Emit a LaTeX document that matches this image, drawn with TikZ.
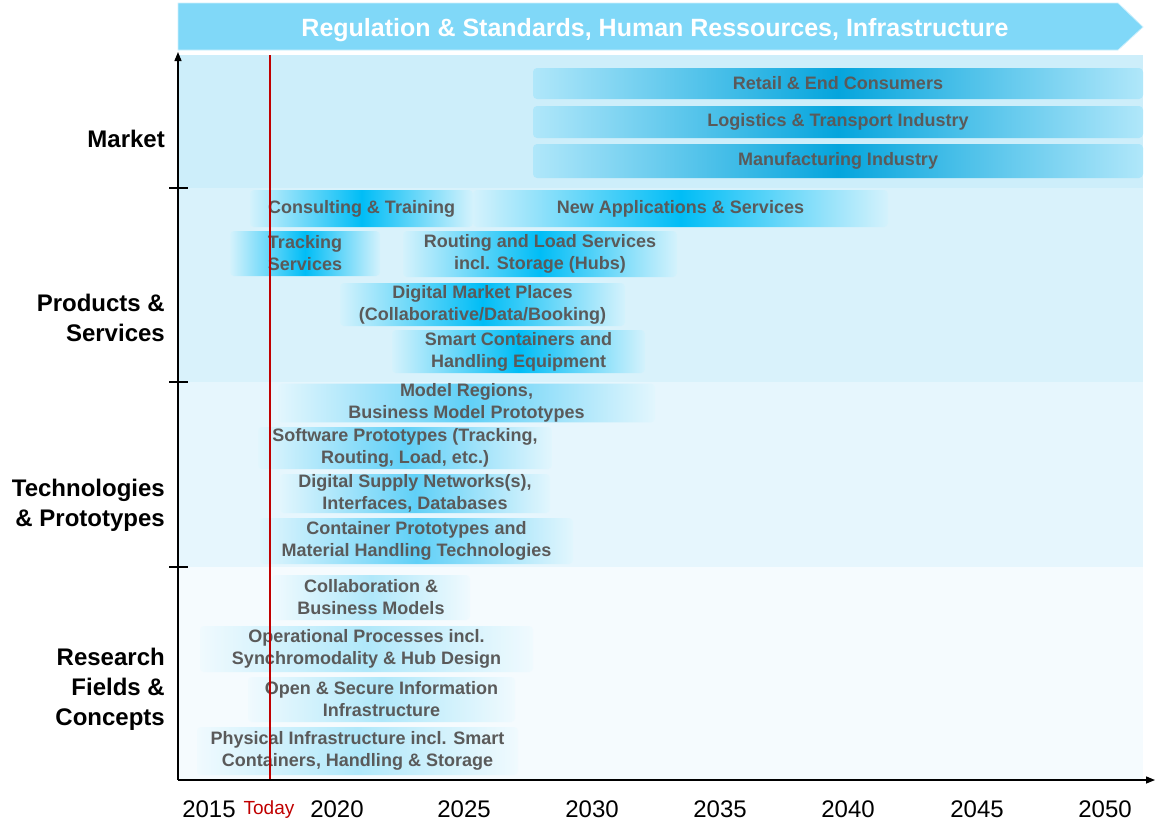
\documentclass[tikz,border=0pt]{standalone}
\usepackage{fontspec}
\setmainfont{Liberation Sans}
\usetikzlibrary{arrows.meta}
\definecolor{txtgray}{HTML}{5A5A5A}
\definecolor{banner}{HTML}{80D8F8}
\definecolor{bandM}{HTML}{CDEEFA}
\definecolor{bandP}{HTML}{D9F2FB}
\definecolor{bandT}{HTML}{E6F6FD}
\definecolor{bandR}{HTML}{F5FBFE}
\definecolor{mktE}{HTML}{B0E7FA}
\definecolor{mktC}{HTML}{05A5DD}
\definecolor{prdE}{HTML}{D4F2FC}
\definecolor{prdC}{HTML}{00BDF6}
\definecolor{tecE}{HTML}{E2F6FD}
\definecolor{tecC}{HTML}{60D0F7}
\definecolor{rscE}{HTML}{F0FAFE}
\definecolor{rscC}{HTML}{B0E8FA}
\definecolor{todayred}{HTML}{C00000}
\pgfdeclarehorizontalshading{mktshade}{100bp}{color(0bp)=(mktE); color(25bp)=(mktE); color(50bp)=(mktC); color(75bp)=(mktE); color(100bp)=(mktE)}
\pgfdeclarehorizontalshading{prdshade}{100bp}{color(0bp)=(prdE); color(25bp)=(prdE); color(50bp)=(prdC); color(75bp)=(prdE); color(100bp)=(prdE)}
\pgfdeclarehorizontalshading{tecshade}{100bp}{color(0bp)=(tecE); color(25bp)=(tecE); color(50bp)=(tecC); color(75bp)=(tecE); color(100bp)=(tecE)}
\pgfdeclarehorizontalshading{rscshade}{100bp}{color(0bp)=(rscE); color(25bp)=(rscE); color(50bp)=(rscC); color(75bp)=(rscE); color(100bp)=(rscE)}
\newcommand\rbar[7]{%
  \pgfmathsetmacro\bw{#5-#3}\pgfmathsetmacro\bh{#6-#4}%
  \pgfmathsetmacro\bx{(#3+#5)/2}\pgfmathsetmacro\by{(#4+#6)/2}%
  \node[#1, minimum width=\bw pt, minimum height=\bh pt] (#2) at (\bx,\by) {#7};}
\begin{document}
\begin{tikzpicture}[x=1pt,y=-1pt,
  barbase/.style={inner sep=0pt, rounded corners=4pt, align=center, text=txtgray,
    font=\fontsize{18}{22}\selectfont\bfseries},
  mkt/.style={barbase, shading=mktshade},
  prd/.style={barbase, shading=prdshade},
  tec/.style={barbase, shading=tecshade},
  rsc/.style={barbase, shading=rscshade},
  band/.style={inner sep=0pt, outer sep=0pt},
  rowlabel/.style={anchor=east, align=right, inner sep=0pt, font=\fontsize{24}{30}\selectfont\bfseries},
  year/.style={font=\fontsize{24}{24}\selectfont},
  axis/.style={line width=1.3pt, black},
  tick/.style={line width=1.3pt, black}]
\useasboundingbox (0,0) rectangle (1155,827);
% banner
\coordinate (b1) at (178,3);
\coordinate (b2) at (1118,3);
\coordinate (b3) at (1143,27);
\coordinate (b4) at (1118,50);
\coordinate (b5) at (178,50);
\fill[banner, draw=white!60!banner, line width=0.8pt] (b1) -- (b2) -- (b3) -- (b4) -- (b5) -- cycle;
\node[text=white, font=\fontsize{25}{25}\selectfont\bfseries] (bannertext) at (655,30) {Regulation \& Standards, Human Ressources, Infrastructure};
% bands
\rbar{band, fill=bandM}{bandm}{178}{55}{1143}{188}{}
\rbar{band, fill=bandP}{bandp}{178}{188}{1143}{382}{}
\rbar{band, fill=bandT}{bandt}{178}{382}{1143}{567}{}
\rbar{band, fill=bandR}{bandr}{178}{567}{1143}{780}{}
% market
\rbar{mkt}{m1}{533}{68}{1143}{99}{Retail \& End Consumers}
\rbar{mkt}{m2}{533}{106}{1143}{138}{Logistics \& Transport Industry}
\rbar{mkt}{m3}{533}{144}{1143}{178}{Manufacturing Industry}
% products
\rbar{prd}{p1}{250}{190}{473}{227}{Consulting \& Training}
\rbar{prd}{p2}{473}{190}{888}{227}{New Applications \& Services}
\rbar{prd}{p3}{230}{231}{380}{276}{Tracking\\Services}
\rbar{prd}{p4}{403}{231}{677}{277}{Routing and Load Services\\incl. Storage (Hubs)}
\rbar{prd}{p5}{340}{283}{625}{326}{Digital Market Places\\(Collaborative/Data/Booking)}
\rbar{prd}{p6}{392}{330}{645}{373}{Smart Containers and\\Handling Equipment}
% technologies
\rbar{tec}{t1}{278}{384}{655}{422}{Model Regions,\\Business Model Prototypes}
\rbar{tec}{t2}{258}{427}{552}{469}{Software Prototypes (Tracking,\\Routing, Load, etc.)}
\rbar{tec}{t3}{280}{474}{550}{513}{Digital Supply Networks(s),\\Interfaces, Databases}
\rbar{tec}{t4}{260}{518}{573}{564}{Container Prototypes and\\Material Handling Technologies}
% research
\rbar{rsc}{r1}{272}{575}{470}{620}{Collaboration \&\\Business Models}
\rbar{rsc}{r2}{200}{626}{533}{672}{Operational Processes incl.\\Synchromodality \& Hub Design}
\rbar{rsc}{r3}{248}{677}{515}{722}{Open \& Secure Information\\Infrastructure}
\rbar{rsc}{r4}{197}{727}{518}{775}{Physical Infrastructure incl. Smart\\Containers, Handling \& Storage}
% today line
\coordinate (todaytop) at (270,55);
\coordinate (todaybot) at (270,780);
\draw[todayred, line width=1.3pt] (todaytop) -- (todaybot);
% axes
\coordinate (origin) at (178,780);
\coordinate (ytop) at (178,52);
\coordinate (xend) at (1155,780);
\draw[axis, -{Triangle[length=9pt,width=7pt]}] (origin) -- (ytop);
\draw[axis, -{Triangle[length=9pt,width=7pt]}] (origin) -- (xend);
\foreach \yy/\nm in {188/a,382/b,567/c}{
  \coordinate (tl\nm) at (169,\yy);
  \coordinate (tr\nm) at (188,\yy);
  \draw[tick] (tl\nm) -- (tr\nm);
}
% row labels
\node[rowlabel] (lm) at (165,139) {Market};
\node[rowlabel] (lp) at (165,318) {Products \&\\Services};
\node[rowlabel] (lt) at (165,505) {Technologies\\\& Prototypes};
\node[rowlabel] (lr) at (165,689) {Research\\Fields \&\\Concepts};
% years
\node[year] (y2015) at (209,809) {2015};
\node[text=todayred, font=\fontsize{19}{19}\selectfont] (today) at (269,810) {Today};
\node[year] (y2020) at (337,809) {2020};
\node[year] (y2025) at (464,809) {2025};
\node[year] (y2030) at (592,809) {2030};
\node[year] (y2035) at (720,809) {2035};
\node[year] (y2040) at (848,809) {2040};
\node[year] (y2045) at (977,809) {2045};
\node[year] (y2050) at (1105,809) {2050};
\end{tikzpicture}
\end{document}
